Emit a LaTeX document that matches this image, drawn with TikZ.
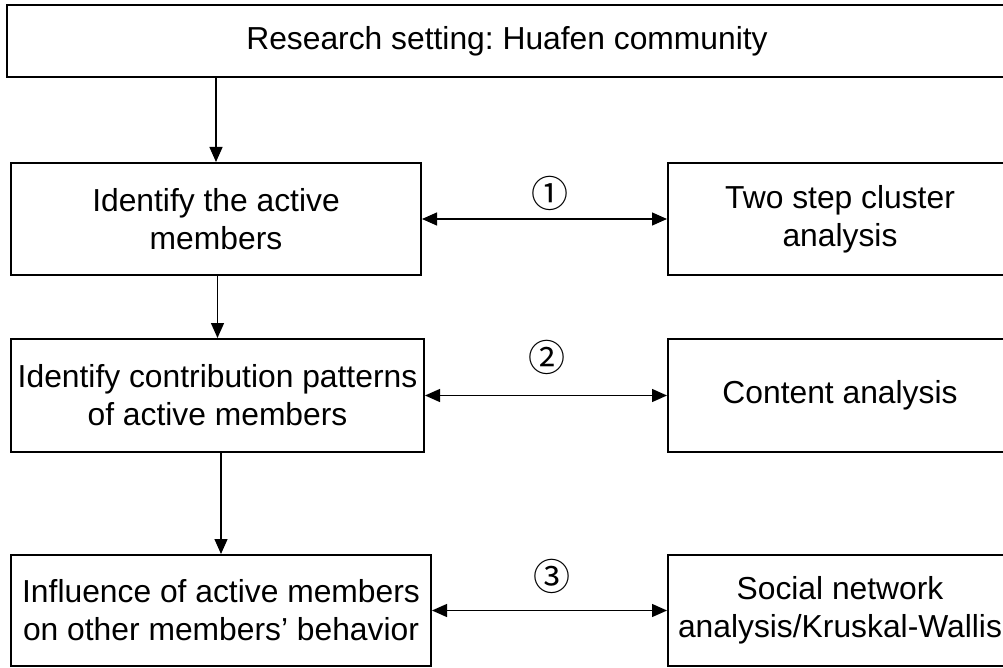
\documentclass[tikz,border=0pt]{standalone}
\usepackage{fontspec}
\usepackage{xcolor}
\usepackage{tikz}
\usetikzlibrary{arrows.meta,positioning}
\setmainfont{Liberation Sans}
\newfontfamily\circfam{Noto Sans CJK SC}
\definecolor{ink}{HTML}{000000}
\renewcommand{\large}{\fontsize{31.8}{38}\selectfont}
\renewcommand{\Large}{\fontsize{37}{42}\selectfont}
\frenchspacing

\begin{document}
\begin{tikzpicture}[x=1pt, y=-1pt,
    stage/.style={draw=ink, line width=2pt, rectangle, align=center,
      font=\large, inner sep=0pt},
    link/.style={draw=ink, line width=1.3pt, -{Triangle[length=15pt, width=13pt]}},
    biglink/.style={draw=ink, line width=1.3pt,
      {Triangle[length=15pt, width=13pt]}-{Triangle[length=15pt, width=13pt]}},
    num/.style={font=\Large\circfam, inner sep=0pt}]
  \useasboundingbox (0,0) rectangle (1003,668);

  % left column
  \node[stage, minimum width=1000pt, minimum height=72pt] (setting) at (507,41)
    {Research setting: Huafen community};
  \node[stage, minimum width=410pt, minimum height=112pt] (ident) at (216,219)
    {Identify the active\\members};
  \node[stage, minimum width=413pt, minimum height=113pt] (contrib) at (217.5,395.5)
    {Identify contribution patterns\\of active members};
  \node[stage, minimum width=420pt, minimum height=111pt] (infl) at (221,610.5)
    {Influence of active members\\on other members’ behavior};

  % right column
  \node[stage, minimum width=344pt, minimum height=112pt] (cluster) at (840,219)
    {Two step cluster\\analysis};
  \node[stage, minimum width=344pt, minimum height=113pt] (content) at (840,395.5)
    {Content analysis};
  \node[stage, minimum width=344pt, minimum height=111pt] (social) at (840,610.5)
    {Social network\\analysis/Kruskal-Wallis};

  % flow
  \draw[link] (setting.south -| ident.north) -- (ident.north);
  \draw[link] (ident.south -| contrib.north) -- (contrib.north);
  \draw[link] (contrib.south -| infl.north) -- (infl.north);

  % methods
  \draw[biglink] (ident.east) -- node[num, midway, yshift=26pt, xshift=5pt] (one) {①} (cluster.west);
  \draw[biglink] (contrib.east) -- node[num, midway, yshift=38pt, xshift=1pt] (two) {②} (content.west);
  \draw[biglink] (infl.east) -- node[num, midway, yshift=34pt, xshift=2pt] (three) {③} (social.west);
\end{tikzpicture}
\end{document}
